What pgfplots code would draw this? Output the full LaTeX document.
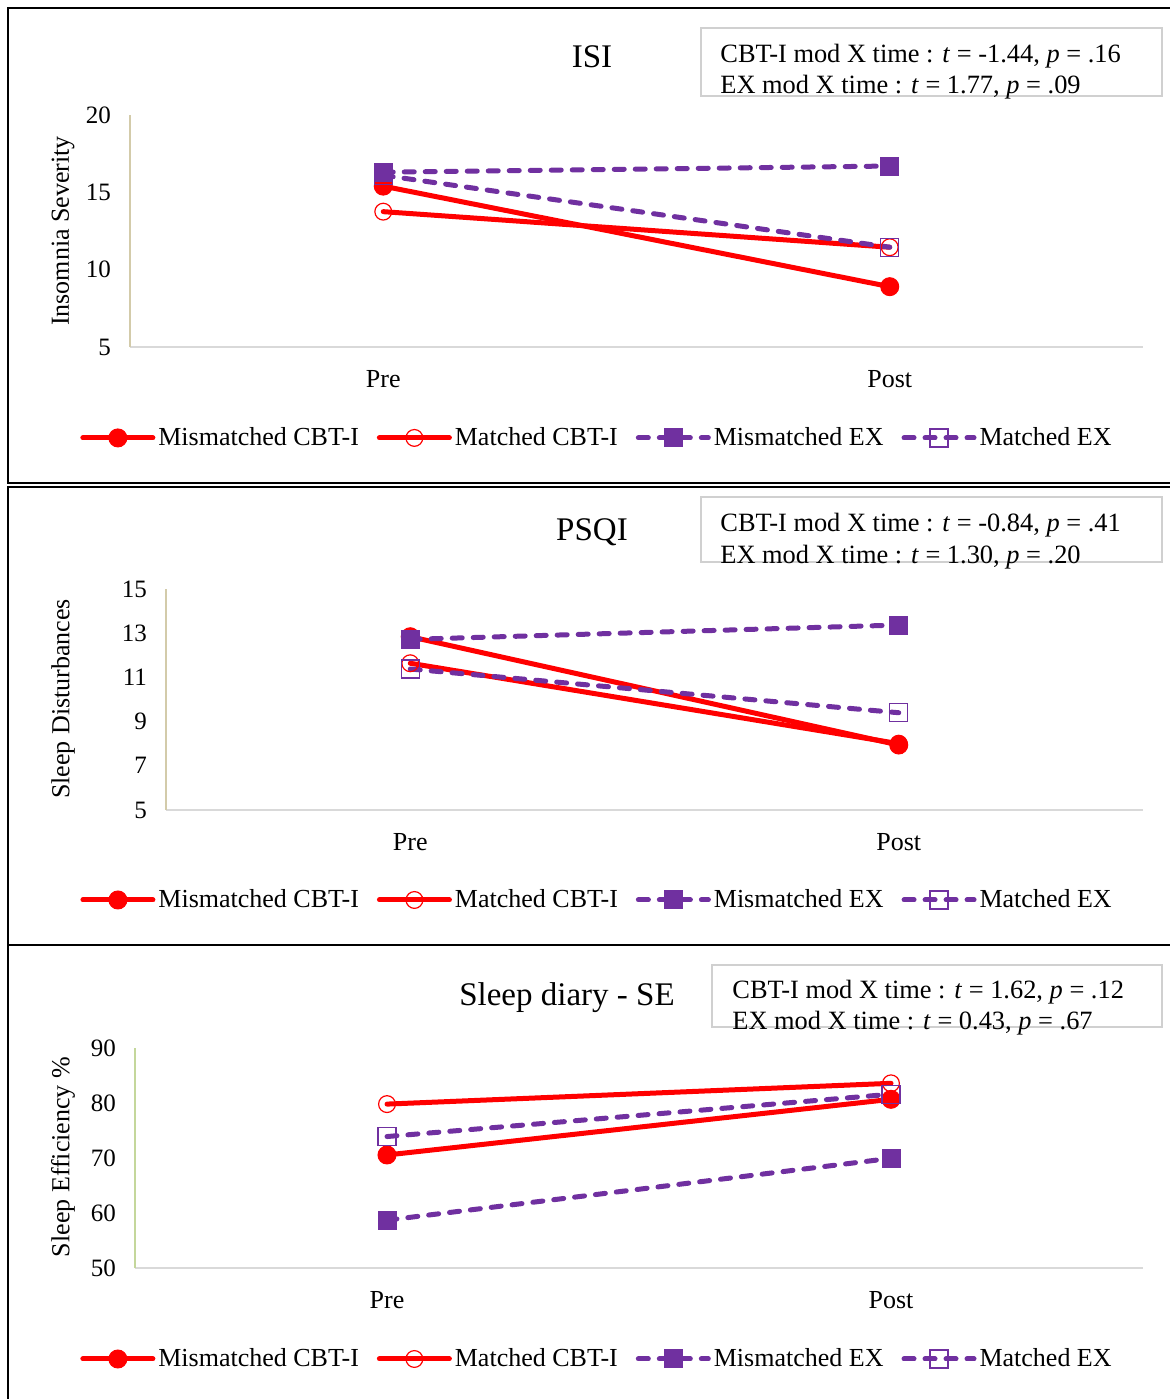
\documentclass[border=0pt]{standalone}
\usepackage{fontspec}
\setmainfont{Liberation Serif}
\usepackage{pgfplots}
\pgfplotsset{compat=1.18}
\definecolor{cred}{HTML}{FF0000}
\definecolor{cpur}{HTML}{7030A0}
\definecolor{ctan}{HTML}{D3CBAA}
\definecolor{cgrn}{HTML}{C4D79B}
\definecolor{cgry}{HTML}{D9D9D9}
\definecolor{cbox}{HTML}{D0D0D0}
\pgfplotsset{
 panel/.style={
  scale only axis, anchor=south west, clip=false,
  xmin=0, xmax=2, xtick={0.5,1.5}, xticklabels={Pre,Post},
  axis x line*=bottom, axis y line*=left,
  x axis line style={draw=cgry, line width=1pt, -},
  y axis line style={draw=ctan, line width=1pt, -},
  major tick length=0pt,
  yticklabel style={font=\fontsize{12.5}{14}\selectfont, xshift=-6pt},
  xticklabel style={font=\fontsize{13}{15}\selectfont, yshift=-8pt},
  /pgf/number format/assume math mode=true,
  legend columns=4,
  legend style={draw=none, fill=none, inner sep=0pt, anchor=west,
    font=\fontsize{13}{15}\selectfont, nodes={inner sep=1pt},
    /tikz/every odd column/.append style={column sep=0.5pt},
    /tikz/every even column/.append style={column sep=8pt}},
  legend image code/.code={\draw[mark repeat=2,mark phase=2,##1] plot coordinates {(0pt,0pt) (17.5pt,0pt) (35pt,0pt)};},
 },
 miscbt/.style={color=cred, line width=2.5pt, solid, line cap=round, mark=*, mark size=4.5pt, mark options={solid, fill=cred, draw=cred, line width=0.5pt}},
 matcbt/.style={color=cred, line width=2.5pt, solid, line cap=round, mark=o, mark size=4.2pt, mark options={solid, draw=cred, fill=none, line width=0.6pt}},
 misex/.style={color=cpur, line width=2.5pt, line cap=round, dash pattern=on 5pt off 5.5pt, mark=square*, mark size=4.5pt, mark options={solid, fill=cpur, draw=cpur, line width=0.5pt}},
 matex/.style={color=cpur, line width=2.5pt, line cap=round, dash pattern=on 5pt off 5.5pt, mark=square, mark size=4.5pt, mark options={solid, draw=cpur, fill=none, line width=0.6pt}},
}
\begin{document}
\begin{tikzpicture}
\useasboundingbox (0pt,0pt) rectangle (585pt,699.5pt);
\begin{scope}[x=0.5pt,y=0.5pt]
% panel frames
\draw[line width=1pt] (8,1391) rectangle (1190,916);
\draw[line width=1pt] (8,912) rectangle (1190,454);
\draw[line width=1pt] (8,454) rectangle (1190,-20);
% titles
\node[font=\fontsize{16.5}{19}\selectfont] at (592,1342) {ISI};
\node[font=\fontsize{16.5}{19}\selectfont] at (592,867) {PSQI};
\node[font=\fontsize{16.5}{19}\selectfont] at (567,401) {Sleep diary - SE};
% y labels
\node[rotate=90, font=\fontsize{13}{15}\selectfont] at (63,1168) {Insomnia Severity};
\node[rotate=90, font=\fontsize{13}{15}\selectfont] at (63,700) {Sleep Disturbances};
\node[rotate=90, font=\fontsize{13}{15}\selectfont] at (63,242) {Sleep Efficiency \%};
% annotation boxes
\draw[cbox, line width=0.6pt] (701,1303) rectangle (1162,1371);
\node[anchor=base west, inner sep=0pt, font=\fontsize{13.2}{15}\selectfont] at (720,1336) {CBT-I mod X time : \textit{t} = -1.44, \textit{p} = .16};
\node[anchor=base west, inner sep=0pt, font=\fontsize{13.2}{15}\selectfont] at (720,1305) {EX mod X time : \textit{t} = 1.77, \textit{p} = .09};
\draw[cbox, line width=0.6pt] (701,837) rectangle (1162,902);
\node[anchor=base west, inner sep=0pt, font=\fontsize{13.2}{15}\selectfont] at (720,867) {CBT-I mod X time : \textit{t} = -0.84, \textit{p} = .41};
\node[anchor=base west, inner sep=0pt, font=\fontsize{13.2}{15}\selectfont] at (720,835) {EX mod X time : \textit{t} = 1.30, \textit{p} = .20};
\draw[cbox, line width=0.6pt] (712,372) rectangle (1162,434);
\node[anchor=base west, inner sep=0pt, font=\fontsize{13.2}{15}\selectfont] at (732,400) {CBT-I mod X time : \textit{t} = 1.62, \textit{p} = .12};
\node[anchor=base west, inner sep=0pt, font=\fontsize{13.2}{15}\selectfont] at (732,369) {EX mod X time : \textit{t} = 0.43, \textit{p} = .67};
\end{scope}

% Panel 1: ISI
\begin{axis}[panel, at={(65pt,526pt)}, width=506.5pt, height=116pt,
  ymin=5, ymax=20, ytick={5,10,15,20},
  legend style={at={(-0.0494,-0.392)}}]
\addplot[miscbt] coordinates {(0.5,15.4) (1.5,8.9)};
\addplot[matcbt] coordinates {(0.5,13.75) (1.5,11.45)};
\addplot[misex] coordinates {(0.5,16.3) (1.5,16.7)};
\addplot[matex] coordinates {(0.5,16.1) (1.5,11.45)};
\legend{Mismatched CBT-I, Matched CBT-I, Mismatched EX, Matched EX}
\end{axis}

% Panel 2: PSQI
\begin{axis}[panel, at={(83pt,294.5pt)}, width=488.5pt, height=110.5pt,
  ymin=5, ymax=15, ytick={5,7,9,11,13,15},
  legend style={at={(-0.0880,-0.4072)}}]
\addplot[miscbt] coordinates {(0.5,12.84) (1.5,7.94)};
\addplot[matcbt] coordinates {(0.5,11.64) (1.5,8.0)};
\addplot[misex] coordinates {(0.5,12.72) (1.5,13.37)};
\addplot[matex] coordinates {(0.5,11.38) (1.5,9.4)};
\legend{Mismatched CBT-I, Matched CBT-I, Mismatched EX, Matched EX}
\end{axis}

% Panel 3: Sleep diary SE
\begin{axis}[panel, at={(67.5pt,65.5pt)}, width=504pt, height=110pt,
  ymin=50, ymax=90, ytick={50,60,70,80,90},
  y axis line style={draw=cgrn},
  legend style={at={(-0.0546,-0.4136)}}]
\addplot[miscbt] coordinates {(0.5,70.55) (1.5,80.67)};
\addplot[matcbt] coordinates {(0.5,79.8) (1.5,83.58)};
\addplot[misex] coordinates {(0.5,58.7) (1.5,69.94)};
\addplot[matex] coordinates {(0.5,73.9) (1.5,81.6)};
\legend{Mismatched CBT-I, Matched CBT-I, Mismatched EX, Matched EX}
\end{axis}
\end{tikzpicture}
\end{document}
